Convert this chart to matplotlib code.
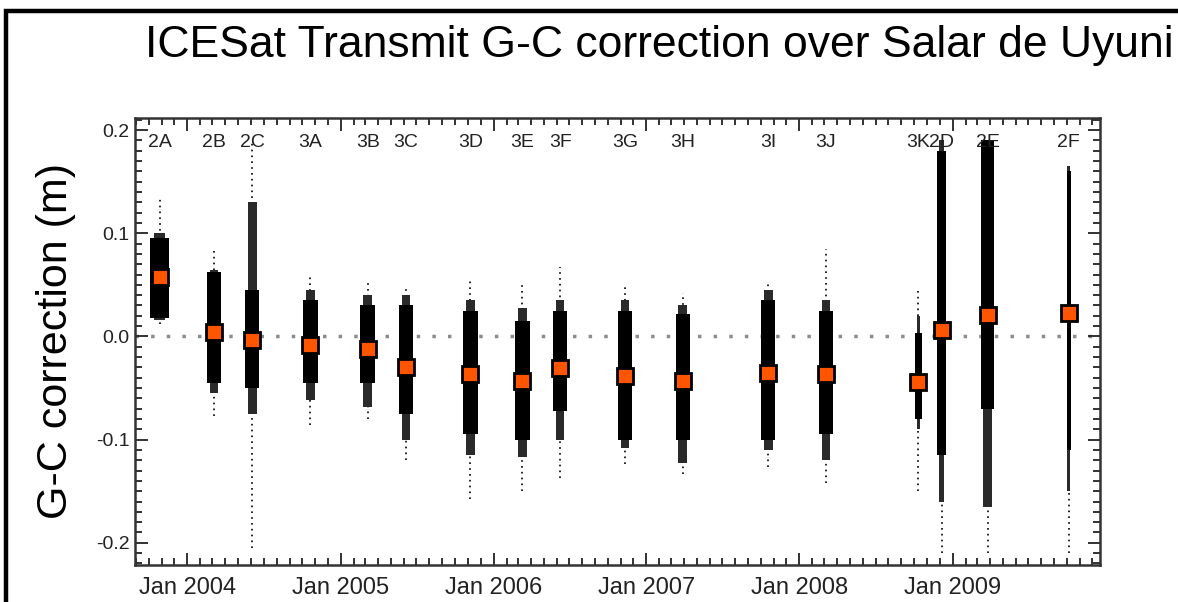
import datetime as dt
import matplotlib
matplotlib.use("Agg")
import matplotlib.pyplot as plt
import matplotlib.dates as mdates
from matplotlib.patches import Rectangle
from matplotlib.ticker import MultipleLocator

plt.rcParams["font.family"] = ["Liberation Sans", "DejaVu Sans"]

# campaign names and operating periods
campanhas = ["2A", "2B", "2C", "3A", "3B", "3C", "3D", "3E", "3F",
             "3G", "3H", "3I", "3J", "3K", "2D", "2E", "2F"]
inicio = ["2003-10-04", "2004-02-17", "2004-05-18", "2004-10-03", "2005-02-17",
          "2005-05-20", "2005-10-21", "2006-02-22", "2006-05-24", "2006-10-25",
          "2007-03-12", "2007-10-02", "2008-02-17", "2008-10-04", "2008-11-25",
          "2009-03-09", "2009-09-30"]
fim = ["2003-11-19", "2004-03-21", "2004-06-21", "2004-11-08", "2005-03-24",
       "2005-06-23", "2005-11-24", "2006-03-28", "2006-06-26", "2006-11-27",
       "2007-04-14", "2007-11-05", "2008-03-21", "2008-10-19", "2008-12-17",
       "2009-04-11", "2009-10-11"]

# mean G-C correction per campaign (m)
media = [0.058, 0.004, -0.003, -0.008, -0.012, -0.030, -0.036, -0.043, -0.031,
         -0.038, -0.043, -0.035, -0.036, -0.044, 0.006, 0.021, 0.023]

# spread of the individual shots (m): dense core, sparser fringe, outliers
denso_min = [0.018, -0.045, -0.050, -0.045, -0.045, -0.075, -0.095, -0.100, -0.072,
             -0.100, -0.100, -0.100, -0.095, -0.080, -0.115, -0.070, -0.110]
denso_max = [0.095, 0.062, 0.045, 0.035, 0.030, 0.030, 0.025, 0.015, 0.025,
             0.025, 0.022, 0.035, 0.025, 0.003, 0.180, 0.190, 0.160]
franja_min = [0.016, -0.055, -0.075, -0.062, -0.068, -0.100, -0.115, -0.117, -0.100,
              -0.108, -0.123, -0.110, -0.120, -0.090, -0.160, -0.165, -0.150]
franja_max = [0.100, 0.064, 0.130, 0.045, 0.040, 0.040, 0.035, 0.028, 0.035,
              0.035, 0.030, 0.045, 0.035, 0.020, 0.190, 0.190, 0.165]
extremo_min = [0.012, -0.077, -0.205, -0.086, -0.080, -0.120, -0.158, -0.150, -0.137,
               -0.124, -0.133, -0.127, -0.142, -0.150, -0.210, -0.210, -0.210]
extremo_max = [0.134, 0.084, 0.190, 0.060, 0.052, 0.048, 0.055, 0.050, 0.067,
               0.050, 0.042, 0.053, 0.085, 0.048, 0.190, 0.190, 0.165]

ANOS = [2004, 2005, 2006, 2007, 2008, 2009]


def data(s):
    return dt.datetime.strptime(s, "%Y-%m-%d")


fig = plt.figure(figsize=(11.78, 6.02), dpi=100)
ax = fig.add_axes([0.1146, 0.0615, 0.8192, 0.7425])

for i, nome in enumerate(campanhas):
    t0 = data(inicio[i])
    t1 = data(fim[i])
    meio = t0 + (t1 - t0) / 2
    largura = t1 - t0
    # outliers as a dotted column
    ax.vlines(meio, extremo_min[i], extremo_max[i], color="black",
              linewidth=1.2, linestyle=(0, (1, 2.5)), zorder=2)
    # fringe, a bit narrower
    f0 = t0 + largura * 0.2
    f1 = t1 - largura * 0.2
    ax.fill_between([f0, f1], franja_min[i], franja_max[i], color="#2a2a2a",
                    linewidth=0, zorder=2)
    # dense core
    ax.fill_between([t0, t1], denso_min[i], denso_max[i], color="black",
                    linewidth=0, zorder=3)
    ax.plot(meio, media[i], marker="s", markersize=11, color="#ff5500",
            markeredgecolor="black", markeredgewidth=2, zorder=5)
    ax.text(meio, 0.188, nome, ha="center", va="center", fontsize=14,
            color="#222222", zorder=6)

x_min = dt.datetime(2003, 8, 29)
x_max = dt.datetime(2009, 12, 19)
ax.axhline(0.0, color="#8c8c8c", linewidth=2.5, linestyle=(0, (1, 3.5)), zorder=1)
ax.set_xlim(x_min, x_max)
ax.set_ylim(-0.2215, 0.2117)

ax.set_xticks([dt.datetime(a, 1, 1) for a in ANOS])
ax.xaxis.set_major_formatter(mdates.DateFormatter("%b %Y"))
ax.xaxis.set_minor_locator(mdates.MonthLocator())
ax.yaxis.set_major_locator(MultipleLocator(0.1))
ax.yaxis.set_minor_locator(MultipleLocator(0.01))
ax.yaxis.set_major_formatter(plt.FuncFormatter(lambda v, p: f"{v:.1f}".replace("-0.0", "0.0")))

ax.tick_params(which="both", direction="in", top=True, right=True, width=1.3,
               colors="#222222")
ax.tick_params(which="major", length=9)
ax.tick_params(which="minor", length=5)
ax.tick_params(axis="x", which="major", labelsize=17, pad=9)
ax.tick_params(axis="y", which="major", labelsize=14, pad=4)
for sp in ax.spines.values():
    sp.set_linewidth(1.8)
    sp.set_color("#333333")

ax.set_ylabel("G-C correction (m)", fontsize=31, labelpad=14)
fig.text(0.5595, 0.925, "ICESat Transmit G-C correction over Salar de Uyuni",
         ha="center", va="center", fontsize=32)

# outer frame of the picture (only left and top edges are visible)
fig.patches.append(Rectangle((0.0055, -0.5), 2.0, 1.4825, transform=fig.transFigure,
                             fill=False, edgecolor="black", linewidth=3.2))

fig.savefig("out.png", dpi=100)
